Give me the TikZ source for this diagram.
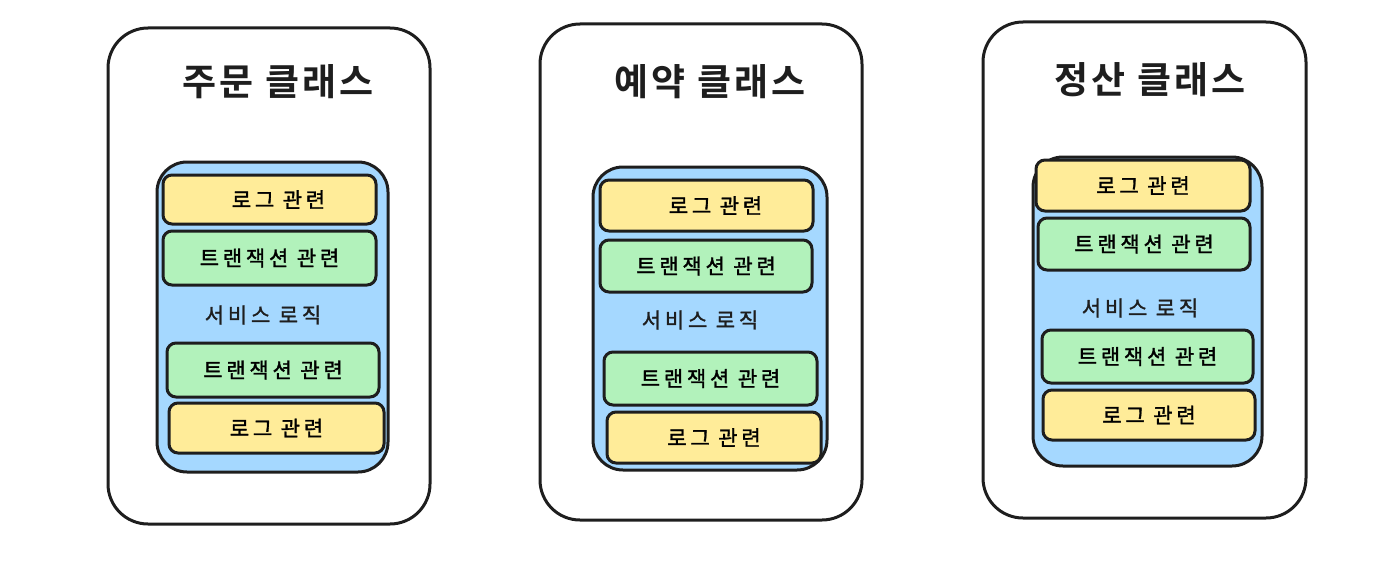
\documentclass[tikz,border=0pt]{standalone}
\usepackage{fontspec}
\newfontfamily\kr[LetterSpace=18,FakeBold=1.5]{Noto Sans CJK KR}
\newfontfamily\krb[LetterSpace=9]{Noto Sans CJK KR Bold}
\definecolor{ink}{HTML}{1E1E1E}
\definecolor{bluef}{HTML}{A5D8FF}
\definecolor{yelf}{HTML}{FFEC99}
\definecolor{grnf}{HTML}{B2F2BB}
\tikzset{
  base/.style={draw=ink, line width=3pt, inner sep=0pt, anchor=center},
  outerbox/.style={base, fill=white, rounded corners=40pt, minimum width=322pt, minimum height=496pt},
  bluebox/.style={base, fill=bluef, rounded corners=30pt},
  yelbox/.style={base, fill=yelf, rounded corners=9pt, font=\kr\fontsize{21}{24}\selectfont},
  grnbox/.style={base, fill=grnf, rounded corners=9pt, font=\kr\fontsize{21}{24}\selectfont},
  titletext/.style={font=\krb\fontsize{37}{40}\selectfont, text=ink},
  svctext/.style={font=\kr\fontsize{21}{24}\selectfont, text=ink},
}
\begin{document}
\begin{tikzpicture}[x=1pt,y=-1pt]
\useasboundingbox (0,0) rectangle (1398,586);
% Panel 1
\node[outerbox] (outer1) at (269,276) {};
\node[titletext] (title1) at (278,82) {주문 클래스};
\node[bluebox, minimum width=231pt, minimum height=310pt] (blue1) at (272.5,317) {};
\node[yelbox, minimum width=213pt, minimum height=49pt] (y1a) at (269.5,199.5) {\hspace*{18pt}로그 관련};
\node[grnbox, minimum width=213pt, minimum height=54pt] (g1a) at (269.5,258) {트랜잭션 관련};
\node[svctext] (svc1) at (263,315) {서비스 로직};
\node[grnbox, minimum width=212pt, minimum height=54pt] (g1b) at (273,370) {트랜잭션 관련};
\node[yelbox, minimum width=215pt, minimum height=50pt] (y1b) at (276.5,428) {로그 관련};
% Panel 2
\node[outerbox] (outer2) at (701,272) {};
\node[titletext] (title2) at (710,82) {예약 클래스};
\node[bluebox, minimum width=234pt, minimum height=303pt] (blue2) at (710,318.5) {};
\node[yelbox, minimum width=213pt, minimum height=51pt] (y2a) at (706.5,205.5) {\hspace*{18pt}로그 관련};
\node[grnbox, minimum width=212pt, minimum height=52pt] (g2a) at (706,266) {트랜잭션 관련};
\node[svctext] (svc2) at (700,320) {서비스 로직};
\node[grnbox, minimum width=213pt, minimum height=53pt] (g2b) at (710.5,378.5) {트랜잭션 관련};
\node[yelbox, minimum width=214pt, minimum height=51pt] (y2b) at (714,437.5) {로그 관련};
% Panel 3
\node[outerbox, minimum width=323pt] (outer3) at (1144.5,270) {};
\node[titletext] (title3) at (1150,80) {정산 클래스};
\node[bluebox, minimum width=229pt, minimum height=309pt] (blue3) at (1147.5,311.5) {};
\node[yelbox, minimum width=214pt, minimum height=51pt] (y3a) at (1143,185.5) {로그 관련};
\node[grnbox, minimum width=212pt, minimum height=52pt] (g3a) at (1144,244) {트랜잭션 관련};
\node[svctext] (svc3) at (1140,308) {서비스 로직};
\node[grnbox, minimum width=211pt, minimum height=53pt] (g3b) at (1147.5,356.5) {트랜잭션 관련};
\node[yelbox, minimum width=212pt, minimum height=50pt] (y3b) at (1149,415) {로그 관련};
\end{tikzpicture}
\end{document}
